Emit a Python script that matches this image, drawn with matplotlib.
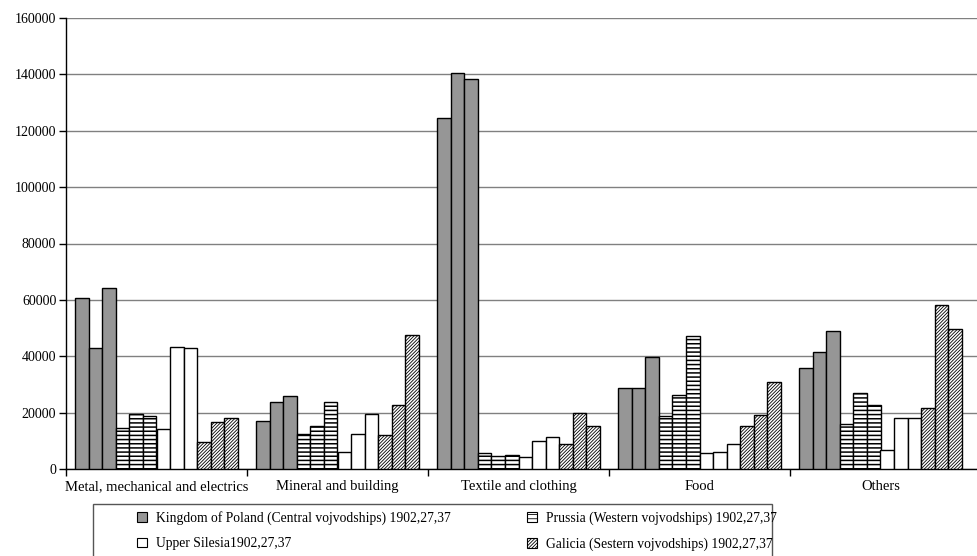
import numpy as np
import matplotlib
matplotlib.use("Agg")
import matplotlib.pyplot as plt
from matplotlib.patches import Patch, Rectangle

# ------------------------------------------------------------
# data, one triple per category:
# 1902, 1927, 1937
# ------------------------------------------------------------
categories = ["Metal, mechanical and electrics", "Mineral and building",
              "Textile and clothing", "Food", "Others"]

poland = [[60800, 43100, 64200],
          [17150, 23700, 25800],
          [124700, 140400, 138400],
          [28600, 28600, 39800],
          [35800, 41400, 49050]]
prussia = [[14400, 19400, 18900],
           [12400, 15250, 23700],
           [5560, 4600, 4950],
           [18800, 26100, 47300],
           [15950, 26800, 22600]]
silesia = [[14100, 43400, 43100],
           [5900, 12300, 19500],
           [4370, 9800, 11200],
           [5780, 6030, 8970],
           [6850, 17970, 18200]]
galicia = [[9500, 16800, 18000],
           [11950, 22800, 47600],
           [8850, 19750, 15150],
           [15150, 19250, 30750],
           [21500, 58150, 49650]]

labels = ["Kingdom of Poland (Central vojvodships) 1902,27,37",
          "Prussia (Western vojvodships) 1902,27,37",
          "Upper Silesia1902,27,37",
          "Galicia (Sestern vojvodships) 1902,27,37"]

y_ticks = [0, 20000, 40000, 60000, 80000, 100000, 120000, 140000, 160000]

# ------------------------------------------------------------
# styles
# ------------------------------------------------------------
plt.rcParams["font.family"] = ["Liberation Serif", "DejaVu Serif"]
plt.rcParams["font.size"] = 10

styles = [
    dict(facecolor="#969696", hatch=None, hlw=1.1),
    dict(facecolor="white", hatch="----", hlw=1.1),
    dict(facecolor="white", hatch=None, hlw=1.1),
    dict(facecolor="white", hatch="//////////", hlw=0.6),
]

fig = plt.figure(figsize=(9.77, 5.56), dpi=100)
ax = fig.add_axes([66 / 977, 1 - 469 / 556, 1 - 66 / 977, (469 - 18) / 556])

bar_w = 0.075
series = [poland, prussia, silesia, galicia]
x = np.arange(len(categories))
for s_idx, (data, st) in enumerate(zip(series, styles)):
    data = np.array(data)
    plt.rcParams["hatch.linewidth"] = st["hlw"]
    for yr in range(3):
        k = s_idx * 3 + yr
        offs = -0.45 + bar_w * (k + 0.5)
        ax.bar(x + offs, data[:, yr], width=bar_w, facecolor=st["facecolor"],
               edgecolor="black", linewidth=1.0, hatch=st["hatch"], zorder=3)

# axes
ax.set_ylim(0, 160000)
ax.set_xlim(-0.5, 4.5 + 6 / 181)
ax.set_yticks(y_ticks)
ax.set_yticklabels([str(v) for v in y_ticks])
ax.set_xticks(x)
ax.set_xticklabels(categories, fontsize=10.5)
ax.set_xticks(np.arange(-0.5, 4.0, 1.0), minor=True)
ax.tick_params(axis="x", which="major", length=0, pad=8)
ax.tick_params(axis="x", which="minor", length=5, direction="out", width=1)
ax.tick_params(axis="y", length=5, direction="out", width=1, pad=2)
ax.grid(axis="y", color="#808080", linewidth=1.0, zorder=0)
ax.set_axisbelow(True)
for side in ["top", "right"]:
    ax.spines[side].set_visible(False)
for side in ["left", "bottom"]:
    ax.spines[side].set_color("black")
    ax.spines[side].set_linewidth(1.0)

# legend (frame drawn by hand, it runs off the bottom of the picture)
handles = []
for st in styles:
    plt.rcParams["hatch.linewidth"] = st["hlw"]
    handles.append(Patch(facecolor=st["facecolor"], edgecolor="black",
                         hatch=st["hatch"], linewidth=0.8))
order = [0, 2, 1, 3]
fig.legend([handles[i] for i in order], [labels[i] for i in order],
           ncol=2, loc="upper left", bbox_to_anchor=(137 / 977, 1 - 511 / 556),
           frameon=False, borderpad=0, borderaxespad=0, handlelength=0.7,
           handleheight=0.7, handletextpad=0.7, labelspacing=0.9,
           columnspacing=5.6, fontsize=9.8)
fig.patches.append(Rectangle((93 / 977, -0.05), (772 - 93) / 977, 0.05 + 1 - 504 / 556,
                             transform=fig.transFigure, facecolor="none",
                             edgecolor="#555555", linewidth=1.0))

fig.savefig("out.png", dpi=100)
